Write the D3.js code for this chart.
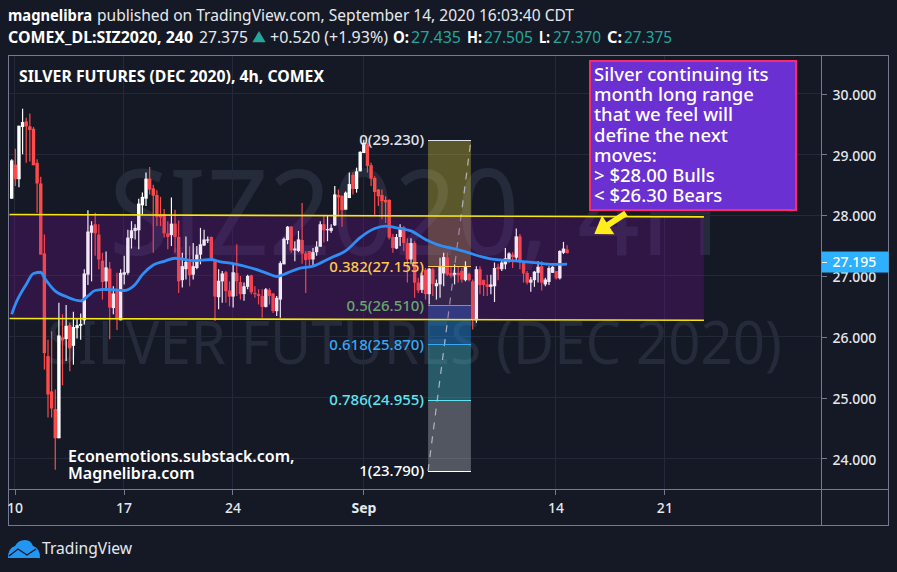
<!DOCTYPE html>
<html>
<head>
<meta charset="utf-8">
<script src="https://d3js.org/d3.v7.min.js"></script>
<style>
  html, body { margin: 0; padding: 0; background: #141925; }
  svg { display: block; }
  text { font-family: "Noto Sans", "Open Sans", sans-serif; }
</style>
</head>
<body>
<svg id="chart" width="897" height="572"></svg>
<script>
// open, high, low, close of each 4h bar
var candles = [
  [28.27,28.92,28.27,28.90],[28.83,29.09,28.48,28.59],[28.59,29.47,28.46,29.47],[29.45,29.75,29.00,29.53],
  [29.54,29.60,28.86,29.46],[29.46,29.67,28.88,29.40],[29.42,29.45,28.82,28.82],[28.86,28.92,28.04,28.52],
  [28.52,28.63,27.35,27.35],[27.37,27.68,25.46,25.73],[25.68,25.95,24.67,25.05],[25.10,26.09,24.67,24.82],
  [24.81,25.13,23.81,24.33],[24.33,26.56,24.33,26.02],[25.99,26.37,25.20,25.94],[25.96,26.52,25.60,26.18],
  [26.19,26.23,25.43,25.81],[25.85,26.41,25.54,26.16],[26.14,26.30,25.97,26.19],[26.18,26.38,25.95,26.21],
  [26.27,27.11,26.20,27.04],[27.02,28.08,26.85,27.73],[27.71,27.90,26.91,27.83],[27.85,28.04,27.33,27.70],
  [27.68,27.85,27.11,27.27],[27.25,27.38,26.61,26.90],[26.91,27.40,26.75,27.14],[27.12,27.23,25.96,26.48],
  [26.47,26.83,26.37,26.71],[26.78,27.05,26.11,26.30],[26.27,27.11,26.27,27.05],[27.02,27.33,26.86,27.06],
  [27.05,27.76,27.02,27.63],[27.62,27.90,27.45,27.75],[27.74,27.85,27.60,27.79],[27.75,28.27,27.44,28.19],
  [28.16,28.37,28.01,28.30],[28.27,28.70,28.15,28.60],[28.60,28.79,28.34,28.42],[28.44,28.50,27.38,28.32],
  [28.33,28.41,27.82,27.97],[28.01,28.30,27.82,27.96],[28.01,28.10,27.63,27.70],[27.70,27.90,27.44,27.64],
  [27.67,28.29,27.49,27.86],[27.86,28.09,27.38,27.64],[27.64,27.91,26.72,26.91],[26.93,27.38,26.81,27.16],
  [27.11,27.65,26.94,27.23],[27.23,27.49,26.83,27.01],[27.02,27.54,26.94,27.16],[27.13,27.49,27.11,27.35],
  [27.35,27.79,27.19,27.52],[27.50,27.76,27.49,27.60],[27.58,27.65,27.54,27.60],[27.64,27.65,27.24,27.26],
  [27.26,27.27,26.26,26.66],[26.65,27.11,26.45,26.92],[26.91,27.08,26.56,27.04],[27.06,27.08,26.56,26.75],
  [26.76,26.91,26.50,26.66],[26.66,27.19,26.48,27.06],[27.05,27.52,26.67,26.91],[26.90,27.00,26.61,26.70],
  [26.70,26.89,26.59,26.83],[26.82,27.02,26.78,27.00],[27.01,27.02,26.70,26.73],[26.72,26.83,26.64,26.70],
  [26.70,26.78,26.53,26.67],[26.67,26.78,26.31,26.49],[26.49,26.80,26.48,26.78],[26.77,26.80,26.53,26.67],
  [26.71,26.72,26.39,26.42],[26.42,26.67,26.34,26.64],[26.61,27.24,26.31,27.21],[27.19,27.63,27.19,27.61],
  [27.59,27.82,27.52,27.81],[27.81,27.82,27.38,27.42],[27.42,27.57,27.24,27.45],[27.41,27.74,27.39,27.60],
  [27.59,28.20,27.20,27.37],[27.37,27.41,26.72,27.26],[27.41,27.41,27.13,27.27],[27.27,27.46,27.16,27.39],
  [27.39,27.57,27.33,27.48],[27.48,27.90,27.48,27.85],[27.85,27.99,27.55,27.75],[27.75,27.99,27.57,27.77],
  [27.74,27.85,27.71,27.79],[27.83,28.48,27.82,28.34],[28.33,28.42,27.98,28.29],[28.32,28.32,27.81,28.08],
  [28.09,28.39,28.09,28.37],[28.28,28.70,28.28,28.51],[28.66,28.70,28.34,28.43],[28.43,28.78,28.37,28.72],
  [28.72,29.05,28.72,29.04],[29.02,29.24,29.02,29.19],[29.16,29.19,28.70,28.81],[28.82,28.86,28.48,28.60],
  [28.61,28.64,28.00,28.38],[28.42,28.43,28.15,28.31],[28.33,28.42,27.93,28.23],[28.25,28.31,27.87,28.21],
  [28.25,28.26,27.60,27.63],[27.64,27.69,27.38,27.46],[27.45,27.69,27.44,27.64],[27.64,27.85,27.49,27.80],
  [27.80,27.82,27.41,27.54],[27.54,27.62,26.89,27.27],[27.27,27.62,27.19,27.54],[27.54,27.57,26.64,26.89],
  [26.89,26.97,26.72,26.76],[26.77,27.05,26.72,27.01],[27.10,27.13,26.61,26.70],[26.70,27.13,26.53,27.12],
  [27.11,27.13,26.67,26.87],[26.83,26.94,26.61,26.88],[26.86,27.30,26.64,27.15],[27.04,27.38,26.83,27.31],
  [27.30,27.38,27.00,27.02],[27.05,27.16,26.97,27.00],[27.02,27.19,26.86,27.05],[27.05,27.16,26.89,27.01],
  [27.08,27.13,26.89,26.94],[26.93,27.24,26.91,27.16],[27.03,27.05,26.91,26.93],[26.91,26.94,26.12,26.28],
  [26.27,27.16,26.23,27.11],[27.11,27.16,26.70,26.85],[26.93,26.94,26.67,26.85],[26.86,27.02,26.67,26.82],
  [26.82,27.02,26.70,26.86],[26.83,27.22,26.57,27.13],[27.15,27.20,26.93,27.11],[27.11,27.27,27.08,27.22],
  [27.19,27.46,27.11,27.29],[27.26,27.39,27.22,27.37],[27.35,27.39,27.13,27.31],[27.30,27.78,27.24,27.65],
  [27.65,27.69,27.11,27.24],[27.22,27.24,26.89,27.04],[27.05,27.08,26.86,26.89],[26.89,26.98,26.74,26.94],
  [26.93,27.08,26.82,27.07],[27.05,27.24,26.89,27.15],[27.16,27.24,26.76,26.89],[26.86,26.97,26.83,26.94],
  [26.90,27.16,26.85,27.13],[27.05,27.16,27.05,27.15],[27.08,27.08,26.94,26.96],[26.96,27.42,26.94,27.41],
  [27.38,27.56,27.36,27.45],[27.435,27.505,27.370,27.375]
];

var maBars = [0,1,4,6,8,9,12,15,19,21,23,26,31,34,36,39,42,45,50,55,57,61,66,70,73,76,79,83,88,92,96,100,103,106,110,114,117,123,126,128,133,138,144,149,153];
var maValues = [26.37,26.53,26.86,27.04,27.06,26.97,26.75,26.66,26.59,26.67,26.76,26.78,26.76,26.86,27.02,27.18,27.24,27.29,27.25,27.27,27.24,27.20,27.13,27.05,26.99,27.05,27.12,27.16,27.30,27.41,27.63,27.78,27.82,27.79,27.74,27.60,27.52,27.43,27.38,27.34,27.27,27.25,27.22,27.19,27.195];

var priceTicks = [24, 25, 26, 27, 28, 29, 30];
var dateBars = [0.8, 30.8, 60.8, 96.9, 149.8, 179.8];
var dateLabels = ['10', '17', '24', 'Sep', '14', '21'];

// range channel, [bar, price] at each end
var channelBars = [-0.6, 190.7];
var channelTop = [28.01, 27.97];
var channelBottom = [26.30, 26.27];

// fib retracement
var fibBars = [114.7, 126.5];
var fibRatios = ['0', '0.382', '0.5', '0.618', '0.786', '1'];
var fibPrices = [29.230, 27.155, 26.510, 25.870, 24.955, 23.790];
var fibColors = ['#e0e3eb', '#ffc94d', '#66a96a', '#3ba7f5', '#62e3f0', '#ffffff'];
var fibFills = ['#ffeb3b', '#4caf50', '#2196f3', '#4dd0e1', '#d1d4dc'];
var fibAlpha = [0.3, 0.15, 0.4, 0.35, 0.33];

var calloutLines = ['Silver continuing its', 'month long range', 'that we feel will', 'define the next', 'moves:', '> $28.00 Bulls', '< $26.30 Bears'];
var creditLines = ['Econemotions.substack.com,', 'Magnelibra.com'];
var lastMa = 27.195;

var plot = {left: 8.5, right: 821.5, top: 55.5, bottom: 489.5, outerRight: 888.5, outerBottom: 525.5};

var svg = d3.select('#chart');
var x = d3.scaleLinear().domain([0, 153]).range([11.7, 567.1]);
var y = d3.scaleLinear().domain([24, 30]).range([458.3, 93.5]);

function writeBackground() {
  svg.append('rect').attr('width', 897).attr('height', 572).attr('fill', '#141925');

  svg.append('text').attr('x', 109).attr('y', 255)
    .attr('font-size', 119).attr('fill', '#252b3b')
    .attr('textLength', 612).attr('lengthAdjust', 'spacingAndGlyphs')
    .text('SIZ2020, 4H');
  svg.append('text').attr('x', 47).attr('y', 364)
    .attr('font-size', 60).attr('fill', '#252b3b')
    .attr('textLength', 735).attr('lengthAdjust', 'spacingAndGlyphs')
    .text('SILVER FUTURES (DEC 2020)');
}

function writeGrid() {
  var grid = svg.append('g').attr('shape-rendering', 'crispEdges').attr('stroke', '#232939');

  grid.selectAll('.hgrid').data(priceTicks).enter().append('line')
    .attr('x1', plot.left).attr('x2', plot.right)
    .attr('y1', function(d) { return y(d); })
    .attr('y2', function(d) { return y(d); });

  grid.selectAll('.vgrid').data(dateBars).enter().append('line')
    .attr('y1', plot.top).attr('y2', plot.bottom)
    .attr('x1', function(d) { return x(d); })
    .attr('x2', function(d) { return x(d); });
}

function writeFibFills() {
  var x1 = x(fibBars[0]), x2 = x(fibBars[1]);

  svg.append('g').selectAll('rect').data(fibFills).enter().append('rect')
    .attr('x', x1)
    .attr('width', x2 - x1)
    .attr('y', function(d, i) { return y(fibPrices[i]); })
    .attr('height', function(d, i) { return y(fibPrices[i + 1]) - y(fibPrices[i]); })
    .attr('fill', function(d) { return d; })
    .attr('fill-opacity', function(d, i) { return fibAlpha[i]; });

  svg.append('line')
    .attr('x1', x1).attr('y1', y(fibPrices[5]))
    .attr('x2', x2).attr('y2', y(fibPrices[0]))
    .attr('stroke', '#b2b5be').attr('stroke-width', 1.2)
    .attr('stroke-dasharray', '7 7');
}

function writeCandles() {
  var up = '#ffffff', down = '#ff4a4a';
  var bars = svg.append('g').selectAll('g').data(candles).enter().append('g');

  function colorOf(d) { return d[3] >= d[0] ? up : down; }

  bars.append('line')
    .attr('x1', function(d, i) { return x(i); })
    .attr('x2', function(d, i) { return x(i); })
    .attr('y1', function(d) { return y(d[1]); })
    .attr('y2', function(d) { return y(d[2]); })
    .attr('stroke-width', 1.2)
    .attr('stroke', colorOf);

  bars.append('rect')
    .attr('x', function(d, i) { return x(i) - 1.7; })
    .attr('width', 3.4)
    .attr('y', function(d) { return y(Math.max(d[0], d[3])); })
    .attr('height', function(d) { return Math.max(1, Math.abs(y(d[0]) - y(d[3]))); })
    .attr('fill', colorOf);
}

function channelPoints() {
  return [
    [x(channelBars[0]), y(channelTop[0])],
    [x(channelBars[1]), y(channelTop[1])],
    [x(channelBars[1]), y(channelBottom[1])],
    [x(channelBars[0]), y(channelBottom[0])]
  ];
}

function writeChannelFill(alpha) {
  svg.append('polygon')
    .attr('points', channelPoints().join(' '))
    .attr('fill', '#7a0f9a').attr('fill-opacity', alpha);
}

function writeChannelLines() {
  var pts = channelPoints();

  [[pts[0], pts[1]], [pts[3], pts[2]]].forEach(function(seg) {
    svg.append('line')
      .attr('x1', seg[0][0]).attr('y1', seg[0][1])
      .attr('x2', seg[1][0]).attr('y2', seg[1][1])
      .attr('stroke', '#f5e614').attr('stroke-width', 1.6);
  });
}

function writeMovingAverage() {
  var line = d3.line()
    .x(function(d) { return x(d); })
    .y(function(d, i) { return y(maValues[i]); })
    .curve(d3.curveMonotoneX);

  svg.append('path')
    .attr('d', line(maBars))
    .attr('fill', 'none')
    .attr('stroke', '#2f8ff7').attr('stroke-width', 2.8);
}

function writeFibLevels() {
  var x1 = x(fibBars[0]), x2 = x(fibBars[1]);
  var g = svg.append('g');

  g.selectAll('line').data(fibPrices).enter().append('line')
    .attr('shape-rendering', 'crispEdges')
    .attr('x1', x1).attr('x2', x2)
    .attr('y1', function(d) { return y(d); })
    .attr('y2', function(d) { return y(d); })
    .attr('stroke', function(d, i) { return fibColors[i]; });

  g.selectAll('text').data(fibPrices).enter().append('text')
    .attr('x', x1 - 4)
    .attr('y', function(d) { return y(d); })
    .attr('dy', '0.34em')
    .attr('text-anchor', 'end')
    .attr('font-size', 15).attr('font-weight', 500)
    .attr('fill', function(d, i) { return fibColors[i]; })
    .text(function(d, i) { return fibRatios[i] + '(' + d3.format('.3f')(d) + ')'; });
}

function writeAxes() {
  var frame = svg.append('g').attr('shape-rendering', 'crispEdges')
    .attr('stroke', '#757a90').attr('fill', 'none');

  frame.append('rect')
    .attr('x', plot.left).attr('y', plot.top)
    .attr('width', plot.outerRight - plot.left)
    .attr('height', plot.outerBottom - plot.top);
  frame.append('line').attr('x1', plot.right).attr('x2', plot.right).attr('y1', plot.top).attr('y2', plot.outerBottom);
  frame.append('line').attr('x1', plot.left).attr('x2', plot.outerRight).attr('y1', plot.bottom).attr('y2', plot.bottom);

  var yAxis = d3.axisRight(y).tickValues(priceTicks).tickFormat(d3.format('.3f')).tickSize(5).tickPadding(6);
  var yG = svg.append('g').attr('transform', 'translate(' + plot.right + ',0)').call(yAxis);
  var xAxis = d3.axisBottom(x).tickValues(dateBars).tickFormat(function(d, i) { return dateLabels[i]; }).tickSize(5).tickPadding(9);
  var xG = svg.append('g').attr('transform', 'translate(0,' + plot.bottom + ')').call(xAxis);

  [yG, xG].forEach(function(g) {
    g.select('.domain').remove();
    g.selectAll('.tick line').attr('stroke', '#757a90').attr('shape-rendering', 'crispEdges');
    g.selectAll('.tick text')
      .attr('fill', '#e6e8ee')
      .style('font-family', '"Noto Sans", sans-serif')
      .style('font-size', '14px').style('font-weight', 500);
  });
  yG.selectAll('.tick text').attr('dy', '0.42em');
  xG.selectAll('.tick text').filter(function(d, i) { return dateLabels[i] === 'Sep'; }).style('font-weight', 700);

  // last value tag of the moving average
  var tag = svg.append('g').attr('transform', 'translate(' + plot.right + ',' + (y(lastMa) - 1.5) + ')');
  tag.append('rect').attr('y', -11).attr('width', 67).attr('height', 21).attr('fill', '#2db1ff');
  tag.append('line').attr('x2', 5).attr('stroke', '#fff').attr('shape-rendering', 'crispEdges');
  tag.append('text').attr('x', 11).attr('dy', '0.34em')
    .attr('font-size', 14).attr('font-weight', 500).attr('fill', '#fff')
    .text(d3.format('.3f')(lastMa));
}

function writeAnnotations() {
  var box = svg.append('g');
  box.append('rect')
    .attr('x', 590).attr('y', 61).attr('width', 206).attr('height', 149)
    .attr('fill', '#6b30d2').attr('stroke', '#fa2a6e').attr('stroke-width', 2);
  box.selectAll('text').data(calloutLines).enter().append('text')
    .attr('x', 594)
    .attr('y', function(d, i) { return 81 + i * 20.2; })
    .attr('font-size', 18.5).attr('font-weight', 500).attr('fill', '#fff')
    .text(function(d) { return d; });

  // yellow arrow pointing at the channel
  var tail = [x(169.2), y(28.03)], tip = [x(160.5), y(27.69)];
  var angle = Math.atan2(tip[1] - tail[1], tip[0] - tail[0]);
  var side = function(len, off) {
    return [tip[0] - len * Math.cos(angle + off), tip[1] - len * Math.sin(angle + off)];
  };
  svg.append('line')
    .attr('x1', tail[0]).attr('y1', tail[1])
    .attr('x2', tip[0] - 8 * Math.cos(angle)).attr('y2', tip[1] - 8 * Math.sin(angle))
    .attr('stroke', '#ffee1c').attr('stroke-width', 6);
  svg.append('polygon')
    .attr('points', [tip, side(20, 0.6), side(20, -0.6)].join(' '))
    .attr('fill', '#ffee1c');

  svg.selectAll('.credit').data(creditLines).enter().append('text')
    .attr('class', 'credit')
    .attr('x', 68)
    .attr('y', function(d, i) { return 462 + i * 17; })
    .attr('font-size', 16).attr('font-weight', 600).attr('fill', '#fff')
    .text(function(d) { return d; });
}

function writeHeader() {
  function label(xPos, yPos, str, weight, color, width) {
    var t = svg.append('text').attr('x', xPos).attr('y', yPos)
      .attr('font-size', 15.5).attr('font-weight', weight).attr('fill', color)
      .text(str);
    if (width) t.attr('textLength', width).attr('lengthAdjust', 'spacingAndGlyphs');
    return t;
  }
  var ink = '#e6e8ee', teal = '#26a69a';

  label(8, 21, 'magnelibra', 700, '#fff', 84);
  label(97, 21, 'published on TradingView.com, September 14, 2020 16:03:40 CDT', 400, ink, 477);
  label(8, 43, 'COMEX_DL:SIZ2020, 240', 700, '#fff', 185);
  label(199, 43, '27.375', 400, ink, 49);
  svg.append('path').attr('d', d3.symbol(d3.symbolTriangle, 75)()).attr('fill', teal)
    .attr('transform', 'translate(259,38.5)');
  label(270, 43, '+0.520 (+1.93%)', 400, ink, 118);
  label(393, 43, 'O:', 700, '#fff', 16);
  label(411, 43, '27.435', 400, teal, 50);
  label(467, 43, 'H:', 700, '#fff', 15);
  label(484, 43, '27.505', 400, teal, 49);
  label(539, 43, 'L:', 700, '#fff', 11);
  label(553, 43, '27.370', 400, teal, 48);
  label(607, 43, 'C:', 700, '#fff', 15);
  label(624, 43, '27.375', 400, teal, 48);

  label(19, 82, 'SILVER FUTURES (DEC 2020), 4h, COMEX', 700, '#fff', 305);
  label(42, 554, 'TradingView', 400, ink, 90);

  // cloud logo
  svg.append('path')
    .attr('d', 'M8 558 Q8 548 15 546 Q18 540 25 540 Q31 540 33 546 Q40 548 40 558 Z')
    .attr('fill', '#2196f3');
  svg.append('path')
    .attr('d', 'M9 556 L18 549 L27 555 L36 549')
    .attr('fill', 'none').attr('stroke', '#141925').attr('stroke-width', 1.4);
}

writeBackground();
writeGrid();
writeFibFills();
writeChannelFill(0.2);
writeCandles();
writeChannelFill(0.1);
writeChannelLines();
writeMovingAverage();
writeFibLevels();
writeAxes();
writeAnnotations();
writeHeader();
</script>
</body>
</html>
